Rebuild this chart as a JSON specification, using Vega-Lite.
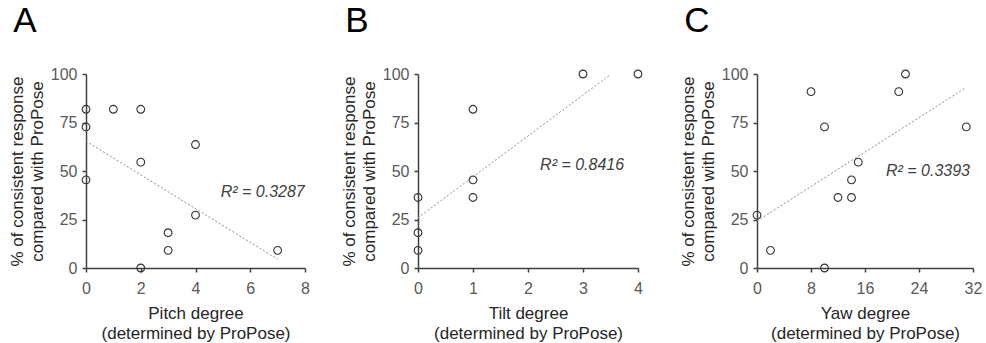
{
  "$schema": "https://vega.github.io/schema/vega-lite/v6.json",
  "background": "white",
  "padding": {"left": 8, "top": 4, "right": 4, "bottom": 2},
  "config": {
    "font": "Liberation Sans",
    "view": {"stroke": null},
    "axis": {
      "grid": false,
      "domainColor": "#404040",
      "domainWidth": 1.5,
      "tickColor": "#404040",
      "tickWidth": 1.5,
      "tickSize": 4,
      "labelColor": "#595959",
      "labelFontSize": 16,
      "labelPadding": 5,
      "labelFlush": false,
      "labelOverlap": false,
      "titleFontSize": 17,
      "titleFontWeight": "normal",
      "titleColor": "#262626",
      "titleLineHeight": 20
    },
    "axisX": {"labelPadding": 8, "titlePadding": 9, "format": "d"},
    "title": {"fontSize": 35, "fontWeight": "normal", "color": "#000000", "anchor": "start", "frame": "bounds", "dx": 5}
  },
  "datasets": {
    "pitch": [
      {"x": 0, "y": 81.82}, {"x": 0, "y": 72.73}, {"x": 0, "y": 45.45},
      {"x": 1, "y": 81.82}, {"x": 2, "y": 81.82}, {"x": 2, "y": 54.55},
      {"x": 2, "y": 0}, {"x": 3, "y": 18.18}, {"x": 3, "y": 9.09},
      {"x": 4, "y": 63.64}, {"x": 4, "y": 27.27}, {"x": 7, "y": 9.09}
    ],
    "pitchTrend": [{"x": 0, "y": 65.4}, {"x": 7, "y": 4.5}],
    "pitchLabel": [{"x": 4.92, "y": 39.3, "label": "R² = 0.3287"}],
    "tilt": [
      {"x": 0, "y": 36.36}, {"x": 0, "y": 18.18}, {"x": 0, "y": 9.09},
      {"x": 1, "y": 81.82}, {"x": 1, "y": 45.45}, {"x": 1, "y": 36.36},
      {"x": 3, "y": 100}, {"x": 4, "y": 100}
    ],
    "tiltTrend": [{"x": 0, "y": 25.9}, {"x": 3.5, "y": 99.7}],
    "tiltLabel": [{"x": 2.22, "y": 53.3, "label": "R² = 0.8416"}],
    "yaw": [
      {"x": 0, "y": 27.27}, {"x": 2, "y": 9.09}, {"x": 8, "y": 90.91},
      {"x": 10, "y": 72.73}, {"x": 10, "y": 0}, {"x": 12, "y": 36.36},
      {"x": 14, "y": 36.36}, {"x": 14, "y": 45.45}, {"x": 15, "y": 54.55},
      {"x": 21, "y": 90.91}, {"x": 22, "y": 100}, {"x": 31, "y": 72.73}
    ],
    "yawTrend": [{"x": 0, "y": 24.2}, {"x": 31, "y": 93.1}],
    "yawLabel": [{"x": 19.1, "y": 49.9, "label": "R² = 0.3393"}]
  },
  "spacing": 30,
  "hconcat": [
    {
      "title": {"text": "A", "offset": 27},
      "width": 219,
      "height": 194,
      "layer": [
        {
          "data": {"name": "pitchTrend"},
          "mark": {"type": "line", "color": "#8c8c8c", "strokeWidth": 1, "strokeDash": [2, 2]},
          "encoding": {
            "x": {"field": "x", "type": "quantitative", "scale": {"domain": [0, 8], "nice": false},
                  "axis": {"values": [0, 2, 4, 6, 8], "title": ["Pitch degree", "(determined by ProPose)"]}},
            "y": {"field": "y", "type": "quantitative", "scale": {"domain": [0, 100], "nice": false},
                  "axis": {"values": [0, 25, 50, 75, 100], "title": ["% of consistent response", "compared with ProPose"]}}
          }
        },
        {
          "data": {"name": "pitch"},
          "mark": {"type": "point", "shape": "circle", "size": 60, "filled": false, "stroke": "#333333", "strokeWidth": 1.1, "opacity": 1},
          "encoding": {
            "x": {"field": "x", "type": "quantitative"},
            "y": {"field": "y", "type": "quantitative"}
          }
        },
        {
          "data": {"name": "pitchLabel"},
          "mark": {"type": "text", "align": "left", "baseline": "middle", "fontStyle": "italic", "fontSize": 16, "color": "#404040"},
          "encoding": {
            "x": {"field": "x", "type": "quantitative"},
            "y": {"field": "y", "type": "quantitative"},
            "text": {"field": "label"}
          }
        }
      ]
    },
    {
      "spacing": 34,
      "hconcat": [
        {
          "title": {"text": "B", "offset": 27},
          "width": 220,
          "height": 194,
          "layer": [
            {
              "data": {"name": "tiltTrend"},
              "mark": {"type": "line", "color": "#8c8c8c", "strokeWidth": 1, "strokeDash": [2, 2]},
              "encoding": {
                "x": {"field": "x", "type": "quantitative", "scale": {"domain": [0, 4], "nice": false},
                      "axis": {"values": [0, 1, 2, 3, 4], "title": ["Tilt degree", "(determined by ProPose)"]}},
                "y": {"field": "y", "type": "quantitative", "scale": {"domain": [0, 100], "nice": false},
                      "axis": {"values": [0, 25, 50, 75, 100], "title": ["% of consistent response", "compared with ProPose"]}}
              }
            },
            {
              "data": {"name": "tilt"},
              "mark": {"type": "point", "shape": "circle", "size": 60, "filled": false, "stroke": "#333333", "strokeWidth": 1.1, "opacity": 1},
              "encoding": {
                "x": {"field": "x", "type": "quantitative"},
                "y": {"field": "y", "type": "quantitative"}
              }
            },
            {
              "data": {"name": "tiltLabel"},
              "mark": {"type": "text", "align": "left", "baseline": "middle", "fontStyle": "italic", "fontSize": 16, "color": "#404040"},
              "encoding": {
                "x": {"field": "x", "type": "quantitative"},
                "y": {"field": "y", "type": "quantitative"},
                "text": {"field": "label"}
              }
            }
          ]
        },
        {
          "title": {"text": "C", "offset": 27},
          "width": 216,
          "height": 194,
          "layer": [
            {
              "data": {"name": "yawTrend"},
              "mark": {"type": "line", "color": "#8c8c8c", "strokeWidth": 1, "strokeDash": [2, 2]},
              "encoding": {
                "x": {"field": "x", "type": "quantitative", "scale": {"domain": [0, 32], "nice": false},
                      "axis": {"values": [0, 8, 16, 24, 32], "title": ["Yaw degree", "(determined by ProPose)"]}},
                "y": {"field": "y", "type": "quantitative", "scale": {"domain": [0, 100], "nice": false},
                      "axis": {"values": [0, 25, 50, 75, 100], "title": ["% of consistent response", "compared with ProPose"]}}
              }
            },
            {
              "data": {"name": "yaw"},
              "mark": {"type": "point", "shape": "circle", "size": 60, "filled": false, "stroke": "#333333", "strokeWidth": 1.1, "opacity": 1},
              "encoding": {
                "x": {"field": "x", "type": "quantitative"},
                "y": {"field": "y", "type": "quantitative"}
              }
            },
            {
              "data": {"name": "yawLabel"},
              "mark": {"type": "text", "align": "left", "baseline": "middle", "fontStyle": "italic", "fontSize": 16, "color": "#404040"},
              "encoding": {
                "x": {"field": "x", "type": "quantitative"},
                "y": {"field": "y", "type": "quantitative"},
                "text": {"field": "label"}
              }
            }
          ]
        }
      ]
    }
  ]
}
